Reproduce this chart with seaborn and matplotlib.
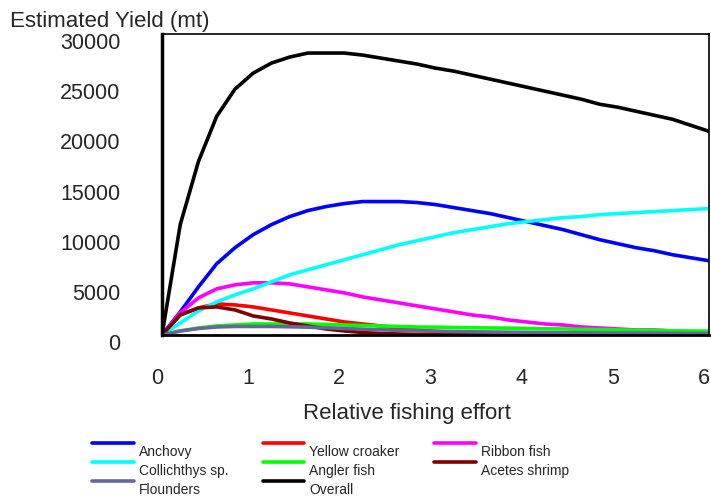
import seaborn as sns
import matplotlib.pyplot as plt
import matplotlib.transforms as mtransforms
import pandas as pd

effort = [0.0, 0.2, 0.4, 0.6, 0.8, 1.0, 1.2, 1.4, 1.6, 1.8, 2.0, 2.2, 2.4, 2.6, 2.8, 3.0,
          3.2, 3.4, 3.6, 3.8, 4.0, 4.2, 4.4, 4.6, 4.8, 5.0, 5.2, 5.4, 5.6, 5.8, 6.0]

anchovy = [0, 2300, 4800, 7100, 8700, 10000, 11000, 11800, 12400, 12800, 13100, 13300, 13300,
           13300, 13200, 13000, 12700, 12400, 12100, 11700, 11300, 10900, 10500, 10000, 9500,
           9100, 8700, 8400, 8000, 7700, 7400]
yellow_croaker = [0, 2000, 2700, 3100, 3000, 2800, 2500, 2200, 1900, 1600, 1300, 1100, 900, 700,
                  500, 350, 250, 150, 100, 80, 60, 50, 40, 40, 30, 30, 30, 20, 20, 20, 20]
ribbon_fish = [0, 2200, 3700, 4600, 5000, 5200, 5200, 5100, 4800, 4500, 4200, 3800, 3500, 3200,
               2900, 2600, 2300, 2000, 1800, 1500, 1300, 1100, 1000, 800, 700, 600, 500, 500,
               400, 300, 300]
collichthys = [0, 1200, 2400, 3300, 4000, 4600, 5300, 6000, 6500, 7000, 7500, 8000, 8500, 9000,
               9400, 9800, 10200, 10500, 10800, 11100, 11300, 11500, 11700, 11800, 12000, 12100,
               12200, 12300, 12400, 12500, 12600]
angler_fish = [0, 400, 700, 900, 1000, 1100, 1100, 1100, 1100, 1050, 1000, 950, 900, 850, 800,
               780, 750, 720, 700, 680, 650, 620, 600, 570, 540, 510, 480, 450, 420, 400, 380]
acetes_shrimp = [0, 2000, 2700, 2800, 2500, 1900, 1600, 1200, 900, 600, 400, 250, 150, 100, 60,
                 40, 30, 20, 20, 10, 10, 10, 10, 0, 0, 0, 0, 0, 0, 0, 0]
flounders = [0, 400, 650, 800, 850, 850, 850, 820, 780, 720, 650, 580, 520, 460, 420, 380, 350,
             320, 300, 280, 260, 240, 230, 220, 210, 200, 190, 180, 170, 160, 150]
overall = [0, 11000, 17300, 21800, 24500, 26100, 27100, 27700, 28100, 28100, 28100, 27900, 27600,
           27300, 27000, 26600, 26300, 25900, 25500, 25100, 24700, 24300, 23900, 23500, 23000,
           22700, 22300, 21900, 21500, 20900, 20300]

# drawing order (later ones on top)
series = {
    'Anchovy': anchovy,
    'Yellow croaker': yellow_croaker,
    'Ribbon fish': ribbon_fish,
    'Collichthys sp.': collichthys,
    'Angler fish': angler_fish,
    'Acetes shrimp': acetes_shrimp,
    'Flounders': flounders,
    'Overall': overall,
}
colors = {
    'Anchovy': '#0000ff',
    'Yellow croaker': '#ff0000',
    'Ribbon fish': '#ff00ff',
    'Collichthys sp.': '#00ffff',
    'Angler fish': '#00ff00',
    'Acetes shrimp': '#800000',
    'Flounders': '#666699',
    'Overall': '#000000',
}
legend_order = ['Anchovy', 'Collichthys sp.', 'Flounders', 'Yellow croaker', 'Angler fish',
                'Overall', 'Ribbon fish', 'Acetes shrimp']

df = pd.concat([pd.DataFrame({'effort': effort, 'yield': v, 'species': k})
                for k, v in series.items()], ignore_index=True)

sns.set_theme(style='white')
plt.rcParams['font.family'] = ['Liberation Sans', 'DejaVu Sans']

fig = plt.figure(figsize=(7.11, 4.99), dpi=100)
ax = fig.add_axes([162 / 711, 1 - 335 / 499, 547 / 711, 301 / 499])
sns.lineplot(data=df, x='effort', y='yield', hue='species', hue_order=list(series.keys()),
             palette=colors, linewidth=2.6, ax=ax, legend=True)

ax.set_xlim(0, 6)
ax.set_ylim(0, 30000)
ax.set_xticks(range(0, 7))
ax.set_yticks(range(0, 30001, 5000))
ax.set_xlabel('')
ax.set_ylabel('')
ax.tick_params(axis='y', direction='in', length=8, width=1, color='#aaaaaa',
               labelsize=15.5, pad=30)
ax.tick_params(axis='x', direction='in', length=5, width=1, color='#aaaaaa',
               labelsize=15.5, pad=24)
for lab in ax.get_yticklabels():
    lab.set_transform(lab.get_transform() +
                      mtransforms.ScaledTranslation(0, -7 / 100, fig.dpi_scale_trans))
for lab in ax.get_xticklabels():
    lab.set_transform(lab.get_transform() +
                      mtransforms.ScaledTranslation(-5 / 100, 0, fig.dpi_scale_trans))

for side, lw in [('left', 2.5), ('bottom', 2), ('top', 1.2), ('right', 1.2)]:
    ax.spines[side].set_color('black')
    ax.spines[side].set_linewidth(lw)

fig.text(10 / 711, 1 - 27 / 499, 'Estimated Yield (mt)', fontsize=16, va='baseline', ha='left')
fig.text(407 / 711, 1 - 413 / 499, 'Relative fishing effort', fontsize=16,
         va='center', ha='center')

handles, labels = ax.get_legend_handles_labels()
hmap = dict(zip(labels, handles))
ax.get_legend().remove()
leg = fig.legend([hmap[k] for k in legend_order], legend_order, ncol=3,
                 loc='upper left', bbox_to_anchor=(92 / 711, 1 - 437 / 499),
                 frameon=False, fontsize=10, handlelength=3.0, handletextpad=0.35,
                 columnspacing=2.5, labelspacing=0.37, borderpad=0, borderaxespad=0)
for t in leg.get_texts():
    t.set_transform(t.get_transform() +
                    mtransforms.ScaledTranslation(0, -8 / 100, fig.dpi_scale_trans))

fig.savefig('out.png', dpi=100)
